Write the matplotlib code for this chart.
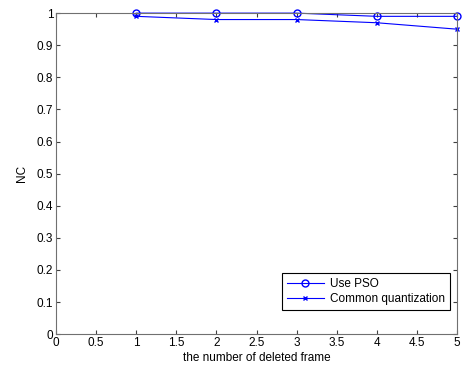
import matplotlib
matplotlib.use("Agg")
import matplotlib.pyplot as plt

plt.rcParams['font.family'] = ['Liberation Sans', 'DejaVu Sans']

frames = [1, 2, 3, 4, 5]
use_pso = [1.0, 1.0, 1.0, 0.99, 0.99]
common_q = [0.99, 0.98, 0.98, 0.97, 0.95]
xticks = [0, 0.5, 1, 1.5, 2, 2.5, 3, 3.5, 4, 4.5, 5]
yticks = [0, 0.1, 0.2, 0.3, 0.4, 0.5, 0.6, 0.7, 0.8, 0.9, 1]

fig = plt.figure(figsize=(4.63, 3.75), dpi=100)
ax = fig.add_axes([0.121, 0.109, 0.866, 0.856])
ax.plot(frames, use_pso, color='#0000ff', marker='o', markersize=5,
        markerfacecolor='none', linewidth=0.8, label='Use PSO', clip_on=False)
ax.plot(frames, common_q, color='#0000ff', marker='x', markersize=3.5,
        linewidth=0.8, label='Common quantization', clip_on=False)
ax.set_xlim(0, 5)
ax.set_ylim(0, 1)
ax.set_xticks(xticks)
ax.set_xticklabels([f'{t:g}' for t in xticks])
ax.set_yticks(yticks)
ax.set_yticklabels([f'{t:g}' for t in yticks])
ax.tick_params(direction='in', top=True, right=True, labelsize=8.5, length=3,
               color='#404040', pad=2)
for s in ax.spines.values():
    s.set_color('#707070')
ax.set_xlabel('the number of deleted frame', fontsize=8.5, labelpad=2)
ax.set_ylabel('NC', fontsize=8.5, labelpad=6)
leg = ax.legend(loc='lower right', bbox_to_anchor=(450/463, (375-310)/375),
                bbox_transform=fig.transFigure, borderaxespad=0,
                fontsize=8.5, fancybox=False, framealpha=1,
                edgecolor='black', handlelength=3.2,
                labelspacing=0.3, borderpad=0.4, handletextpad=0.5)
leg.get_frame().set_linewidth(0.8)
fig.savefig('out.png', dpi=100, facecolor='white')
